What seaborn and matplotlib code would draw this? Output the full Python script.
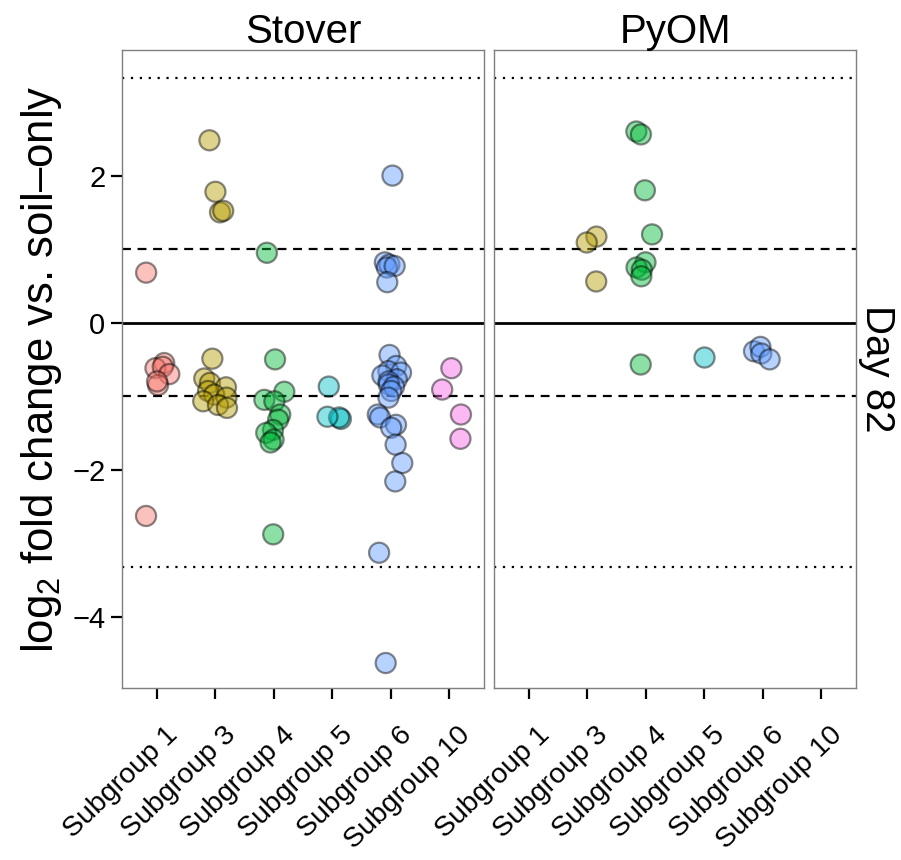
"""
Jittered log2 fold change per subgroup, Stover vs PyOM (day 82).
"""
import matplotlib
matplotlib.use("Agg")
import matplotlib.pyplot as plt
import matplotlib.transforms as mtransforms
import numpy as np
import pandas as pd
import seaborn as sns

# ---- data ----
SUBGROUPS = ["Subgroup 1", "Subgroup 3", "Subgroup 4", "Subgroup 5", "Subgroup 6", "Subgroup 10"]
PANELS = ["Stover", "PyOM"]
PALETTE = ["#F8766D", "#B79F00", "#00BA38", "#00BFC4", "#619CFF", "#F564E3"]

stover_sg1 = [0.68, -0.55, -0.62, -0.60, -0.70, -0.85, -0.80, -2.63]
stover_sg3 = [2.48, 1.78, 1.50, 1.52, -0.49, -0.76, -0.82, -0.88, -0.93, -0.98,
              -1.02, -1.07, -1.12, -1.16]
stover_sg4 = [0.95, -0.50, -0.94, -1.05, -1.07, -1.25, -1.32, -1.46, -1.50, -1.59,
              -1.63, -2.88]
stover_sg5 = [-0.87, -1.31, -1.29, -1.28]
stover_sg6 = [2.00, 0.82, 0.79, 0.75, 0.77, 0.55, -0.44, -0.59, -0.66, -0.68,
              -0.72, -0.77, -0.80, -0.84, -0.87, -0.93, -1.02, -1.25, -1.29, -1.39,
              -1.43, -1.66, -1.91, -2.16, -3.13, -4.63]
stover_sg10 = [-0.62, -0.91, -1.25, -1.58]

pyom_sg3 = [1.17, 1.09, 0.56]
pyom_sg4 = [2.60, 2.56, 1.80, 1.20, 0.82, 0.75, 0.72, 0.63, -0.57]
pyom_sg5 = [-0.47]
pyom_sg6 = [-0.39, -0.33, -0.42, -0.50]

Y_TICKS = [-4, -2, 0, 2]
CUTOFF_DASHED = 1.0
CUTOFF_DOTTED = np.log2(10)


def build_frame():
    groups = {
        "Stover": {"Subgroup 1": stover_sg1, "Subgroup 3": stover_sg3, "Subgroup 4": stover_sg4,
                   "Subgroup 5": stover_sg5, "Subgroup 6": stover_sg6, "Subgroup 10": stover_sg10},
        "PyOM": {"Subgroup 3": pyom_sg3, "Subgroup 4": pyom_sg4,
                 "Subgroup 5": pyom_sg5, "Subgroup 6": pyom_sg6},
    }
    rows = []
    for panel, subs in groups.items():
        for sg, vals in subs.items():
            rows.extend({"panel": panel, "subgroup": sg, "lfc": v} for v in vals)
    return pd.DataFrame(rows)


def main():
    sns.set_style("white")
    plt.rcParams["font.family"] = ["Liberation Sans", "DejaVu Sans"]
    plt.rcParams["mathtext.fontset"] = "custom"
    plt.rcParams["mathtext.rm"] = "Liberation Sans"
    plt.rcParams["mathtext.it"] = "Liberation Sans:italic"
    plt.rcParams["text.color"] = "black"
    plt.rcParams["axes.labelcolor"] = "black"
    plt.rcParams["xtick.color"] = "black"
    plt.rcParams["ytick.color"] = "black"

    df = build_frame()
    pal = dict(zip(SUBGROUPS, PALETTE))
    np.random.seed(7)

    fig = plt.figure(figsize=(9.01, 8.6), dpi=100)
    bottom, height = 0.2, 0.742
    axes = [fig.add_axes([0.1354, bottom, 0.4018, height]),
            fig.add_axes([0.5483, bottom, 0.4018, height])]
    # ggplot-style placement of the rotated category labels
    label_shift = mtransforms.ScaledTranslation(0.08, -0.17, fig.dpi_scale_trans)

    for ax, panel in zip(axes, PANELS):
        for y, ls in [(0, "-"), (CUTOFF_DASHED, (0, (4, 3))), (-CUTOFF_DASHED, (0, (4, 3))),
                      (CUTOFF_DOTTED, (0, (1, 3))), (-CUTOFF_DOTTED, (0, (1, 3)))]:
            ax.axhline(y, color="black", lw=2 if ls == "-" else 1.6, ls=ls, zorder=1)

        sns.stripplot(data=df[df.panel == panel], x="subgroup", y="lfc", hue="subgroup",
                      order=SUBGROUPS, hue_order=SUBGROUPS, palette=pal, jitter=0.22,
                      size=14.5, alpha=0.45, edgecolor="black", linewidth=1.6,
                      legend=False, ax=ax, zorder=3)

        ax.set_xlim(-0.6, 5.6)
        ax.set_ylim(-4.97, 3.71)
        ax.set_yticks(Y_TICKS)
        ax.set_xlabel("")
        ax.set_ylabel("")
        ax.set_title(panel, fontsize=29, pad=5, color="black")
        for s in ax.spines.values():
            s.set_color("#7f7f7f")
            s.set_linewidth(1.0)
        ax.tick_params(axis="both", direction="out", length=8, width=1.6,
                       labelsize=21, pad=4)
        ax.tick_params(axis="x", bottom=True)
        for lab in ax.get_xticklabels():
            lab.set_fontsize(20.5)
            lab.set_rotation(44)
            lab.set_ha("right")
            lab.set_rotation_mode("anchor")
            lab.set_transform(lab.get_transform() + label_shift)

    axes[0].tick_params(axis="y", left=True)
    axes[0].set_ylabel("log$_2$ fold change vs. soil\u2013only", fontsize=31.5, labelpad=6)
    axes[1].tick_params(axis="y", left=False, labelleft=False)
    axes[1].text(1.005, 0.5, "Day 82", rotation=270, transform=axes[1].transAxes,
                 fontsize=29, va="center", ha="left")

    fig.savefig("out.png", dpi=100)
    plt.close(fig)


if __name__ == "__main__":
    main()
